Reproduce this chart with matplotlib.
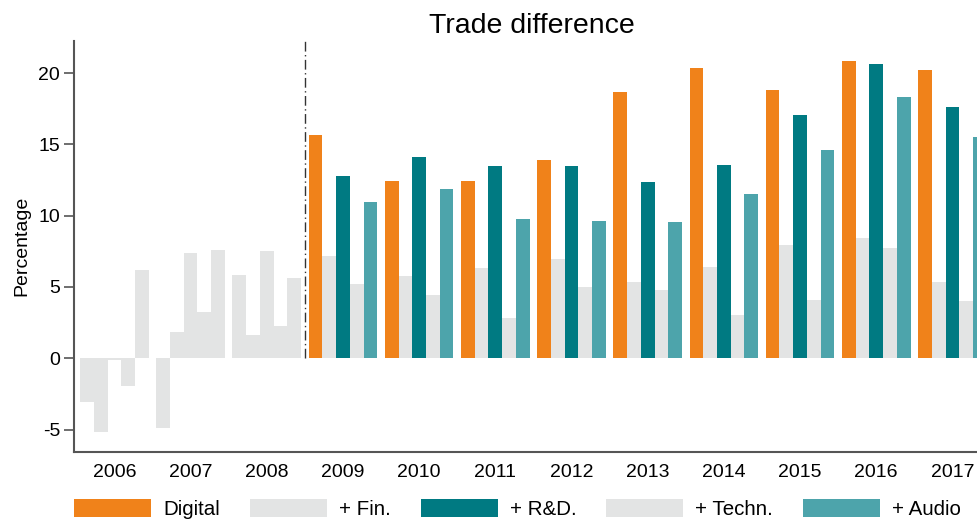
import matplotlib
matplotlib.use("Agg")
import matplotlib.pyplot as plt
from matplotlib.patches import Patch
import numpy as np

plt.rcParams['font.family'] = ['Liberation Sans', 'DejaVu Sans']
plt.rcParams['axes.unicode_minus'] = False

years = [2006, 2007, 2008, 2009, 2010, 2011, 2012, 2013, 2014, 2015, 2016, 2017]
digital = [-3.07, -4.90, 5.84, 15.66, 12.42, 12.42, 13.90, 18.67, 20.35, 18.80, 20.84, 20.21]
fin = [-5.17, 1.84, 1.63, 7.16, 5.75, 6.32, 6.95, 5.33, 6.39, 7.93, 8.42, 5.33]
rd = [-0.12, 7.38, 7.52, 12.77, 14.10, 13.47, 13.47, 12.35, 13.54, 17.05, 20.63, 17.60]
techn = [-1.93, 3.26, 2.26, 5.19, 4.42, 2.81, 4.98, 4.77, 3.02, 4.07, 7.72, 4.00]
audio = [6.20, 7.60, 5.63, 10.95, 11.86, 9.75, 9.61, 9.54, 11.51, 14.60, 18.32, 15.50]
series_labels = ['Digital', '+ Fin.', '+ R&D.', '+ Techn.', '+ Audio']
highlight_start = 2009
yticks = [-5, 0, 5, 10, 15, 20]

colors = ['#F0821A', '#E3E4E4', '#007A82', '#E3E4E4', '#4DA4AB']
grey = '#E3E4E4'

fig = plt.figure(figsize=(9.77, 5.22), dpi=100)
ax = fig.add_axes([74/977, 1 - 451.7/522, (990.5 - 74)/977, (451.7 - 41)/522])

x = np.array(years, dtype=float)
w = 0.18
all_series = [digital, fin, rd, techn, audio]
for i, vals in enumerate(all_series):
    cols = [colors[i] if y >= highlight_start else grey for y in years]
    ax.bar(x + (i - 2) * w, vals, width=w, color=cols, linewidth=0, zorder=2)

ax.set_xlim(2005.47, 2017.5)
ax.set_ylim(-6.55, 22.25)
ymin_frac = (0 - (-6.55)) / (22.25 + 6.55)
ax.axvline(highlight_start - 0.5, ymin=ymin_frac, ymax=1, color='#333333',
           linewidth=1.0, linestyle=(0, (7, 2.5, 1, 2.5)), zorder=3)

ax.set_xticks(years)
ax.set_xticklabels([str(y) for y in years])
ax.set_yticks(yticks)
ax.set_yticklabels([str(t) for t in yticks])
ax.tick_params(axis='x', length=0, pad=9, labelsize=14)
ax.tick_params(axis='y', length=7, width=1.2, color='#555555', pad=3, labelsize=14)

for s in ['top', 'right']:
    ax.spines[s].set_visible(False)
for s in ['left', 'bottom']:
    ax.spines[s].set_color('#555555')
    ax.spines[s].set_linewidth(1.5)

ax.set_ylabel('Percentage', fontsize=14, labelpad=6)
ax.set_title('Trade difference', fontsize=20.5, pad=6)

handles = [Patch(facecolor=c, edgecolor='none') for c in colors]
fig.legend(handles, series_labels, loc='center left',
           bbox_to_anchor=(74/977, 1 - 509/522), ncol=5, frameon=False,
           fontsize=14.8, handlelength=3.75, handleheight=0.95, handletextpad=0.58,
           columnspacing=1.46, borderpad=0, borderaxespad=0)

fig.savefig('out.png', dpi=100)
